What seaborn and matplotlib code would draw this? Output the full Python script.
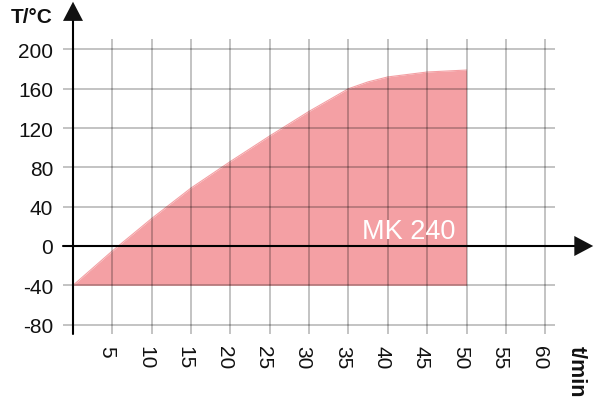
import matplotlib
matplotlib.use("Agg")
import matplotlib.pyplot as plt
import seaborn as sns
import numpy as np
import pandas as pd

# data
time_min = [0, 5, 10, 15, 20, 25, 30, 35, 37.5, 40, 45, 50]
temp_top = [-40, -5, 28, 59, 86, 112, 137, 160, 167, 172, 177, 179]
temp_bottom = -40
x_ticks = [5, 10, 15, 20, 25, 30, 35, 40, 45, 50, 55, 60]
y_ticks = [-80, -40, 0, 40, 80, 120, 160, 200]
label = "MK 240"

sns.set_theme(style="white")
plt.rcParams['font.family'] = ['Liberation Sans', 'DejaVu Sans']

fig = plt.figure(figsize=(6.03, 4.14), dpi=100)
ax = fig.add_axes([0, 0, 1, 1])
pxx = 7.87
pxy = 0.983
ax.set_xlim(-73 / pxx, (603 - 73) / pxx)
ax.set_ylim(-(414 - 247) / pxy, 247 / pxy)
ax.axis("off")

df = pd.DataFrame({"t": time_min, "T": temp_top})
ax.fill_between(df["t"], temp_bottom, df["T"], color="#F4A0A4", lw=0, zorder=1)
sns.lineplot(data=df, x="t", y="T", ax=ax, color="#F4A0A4", lw=0.8, zorder=1)

grid_kw = dict(color="black", alpha=0.28, lw=1.2, zorder=2)
ax.vlines(x_ticks, -89.5, 210.6, **grid_kw)
ax.hlines(y_ticks, -1.27, 61.2, **grid_kw)

# axes
ax.plot([0, 0], [-89.5, 232], color="black", lw=1.5, zorder=3)
ax.plot([-1.27, 64], [0, 0], color="black", lw=1.5, zorder=3)
ax.fill([-1.27, 1.27, 0], [229, 229, 248.5], color="#111111", zorder=4, lw=0)
ax.fill([63.7, 63.7, 66.1], [-10.2, 10.2, 0], color="#111111", zorder=4, lw=0)

for t in x_ticks:
    ax.text(t - 0.75, -101, str(t), rotation=-90, ha="center", va="top", fontsize=15, color="#111111")
for T in y_ticks:
    ax.text(-2.5, T, str(T), ha="right", va="center_baseline", fontsize=15, color="#111111")

ax.text(-2.6, 236, "T/°C", ha="right", va="center_baseline", fontsize=15, fontweight="bold", color="#111111")
ax.text(63.9, -101, "t/min", rotation=-90, ha="center", va="top", fontsize=15.5, fontweight="bold", color="#111111")
ax.text(42.6, 8.1, label, ha="center", va="baseline", fontsize=19.5, color="white", zorder=5)

fig.savefig("out.png", dpi=100)
